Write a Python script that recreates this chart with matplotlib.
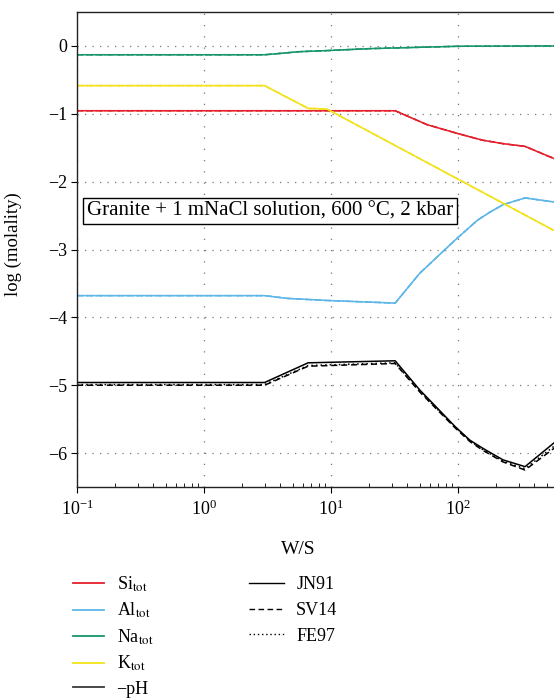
import matplotlib
matplotlib.use("Agg")
import matplotlib.pyplot as plt
from matplotlib.lines import Line2D
import numpy as np

plt.rcParams['font.family'] = ['Liberation Serif', 'DejaVu Serif']
plt.rcParams['mathtext.fontset'] = 'stix'

# ---- data (W/S, log molality) ----
si_x = [0.1, 3, 32, 57, 95, 124, 157, 226, 337, 570]
si_y = [-0.955, -0.955, -0.955, -1.16, -1.28, -1.34, -1.39, -1.44, -1.48, -1.66]

al_x = [0.1, 3, 4.5, 9, 32, 50, 95, 142, 178, 226, 337, 570]
al_y = [-3.68, -3.68, -3.72, -3.75, -3.79, -3.35, -2.86, -2.57, -2.45, -2.34, -2.24, -2.30]

na_x = [0.1, 3, 4, 5.6, 9, 20, 50, 100, 570]
na_y = [-0.13, -0.13, -0.11, -0.085, -0.07, -0.04, -0.02, -0.005, 0.0]

k_x = [0.1, 3, 6.6, 9.3, 570]
k_y = [-0.585, -0.585, -0.92, -0.93, -2.72]

ph_x = [0.1, 3, 6.6, 32, 50, 95, 124, 157, 226, 337, 570]
ph_jn91 = [-4.96, -4.96, -4.67, -4.64, -5.07, -5.61, -5.81, -5.93, -6.10, -6.20, -5.85]
ph_sv14 = [-5.00, -5.00, -4.72, -4.68, -5.10, -5.63, -5.83, -5.96, -6.13, -6.25, -5.93]
ph_fe97 = [-4.99, -4.99, -4.71, -4.67, -5.09, -5.62, -5.82, -5.95, -6.12, -6.23, -5.90]

species = ['Si$_{\\mathrm{tot}}$', 'Al$_{\\mathrm{tot}}$', 'Na$_{\\mathrm{tot}}$', 'K$_{\\mathrm{tot}}$', '\u2212pH']
models = ['JN91', 'SV14', 'FE97']

colors = {'Si': '#e3202b', 'Al': '#5cb6e8', 'Na': '#17956a', 'K': '#f2e21a', 'pH': '#1a1a1a'}

fig = plt.figure(figsize=(5.54, 6.99), dpi=100)
ax = fig.add_axes([77/554, 1-487/699, 1-77/554, (487-12)/699])

lw = 1.1
styles = ['-', (0, (4, 2.5)), (0, (1, 2))]

for xs, ys, c in [(si_x, si_y, colors['Si']), (al_x, al_y, colors['Al']),
                  (na_x, na_y, colors['Na']), (k_x, k_y, colors['K'])]:
    for ls in styles:
        ax.plot(xs, ys, color=c, lw=lw, ls=ls)

ax.plot(ph_x, ph_jn91, color='black', lw=lw, ls=styles[0])
ax.plot(ph_x, ph_sv14, color='black', lw=lw, ls=styles[1])
ax.plot(ph_x, ph_fe97, color='black', lw=lw, ls=styles[2])

ax.set_xscale('log')
ax.set_xlim(0.1, 570)
ax.set_ylim(-6.5, 0.5)
ax.set_yticks([0, -1, -2, -3, -4, -5, -6])
ax.set_yticklabels(['0', '\u22121', '\u22122', '\u22123', '\u22124', '\u22125', '\u22126'])

ax.spines['right'].set_visible(False)
for s in ['left', 'bottom', 'top']:
    ax.spines[s].set_linewidth(1.0)
    ax.spines[s].set_color('#222222')

ax.tick_params(axis='y', which='major', direction='out', length=4, labelsize=13, pad=3)
ax.tick_params(axis='x', which='major', direction='out', length=4, labelsize=13, pad=5)
ax.tick_params(axis='x', which='minor', direction='in', length=3)

ax.grid(True, which='major', axis='y', color='#777777', lw=0.9, ls=(0, (1, 5)))
ax.grid(True, which='major', axis='x', color='#777777', lw=0.9, ls=(0, (1, 8)))

ax.set_xlabel('W/S', fontsize=14)
ax.xaxis.set_label_coords((298-77)/(554-77), -(541-487)/(487-12), transform=ax.transAxes)
ax.set_ylabel('log (molality)', fontsize=13.5)
ax.yaxis.set_label_coords(-(77-22)/(554-77), 0.5 - (244-249.5)/(487-12))

ax.text((87-77)/(554-77), (-2.43 + 6.5)/7.0, 'Granite + 1 mNaCl solution, 600 \u00b0C, 2 kbar',
        transform=ax.transAxes, fontsize=15, va='center', ha='left',
        bbox=dict(boxstyle='square,pad=0.18', fc='white', ec='black', lw=1.0))

# legends
h1 = [Line2D([], [], color=colors[k], lw=1.3) for k in ['Si', 'Al', 'Na', 'K']]
h1.append(Line2D([], [], color='#3a3a3a', lw=1.3))
leg1 = fig.legend(h1, species, loc='upper left', bbox_to_anchor=(66/554, 1-567/699),
                  frameon=False, fontsize=13, handlelength=1.7, handletextpad=0.7,
                  labelspacing=0.40, borderaxespad=0)
h2 = [Line2D([], [], color='black', lw=1.0, ls=s) for s in styles]
leg2 = fig.legend(h2, models, loc='upper left', bbox_to_anchor=(242/554, 1-569/699),
                  frameon=False, fontsize=13, handlelength=1.9, handletextpad=0.7,
                  labelspacing=0.48, borderaxespad=0)

fig.savefig('out.png', dpi=100)
